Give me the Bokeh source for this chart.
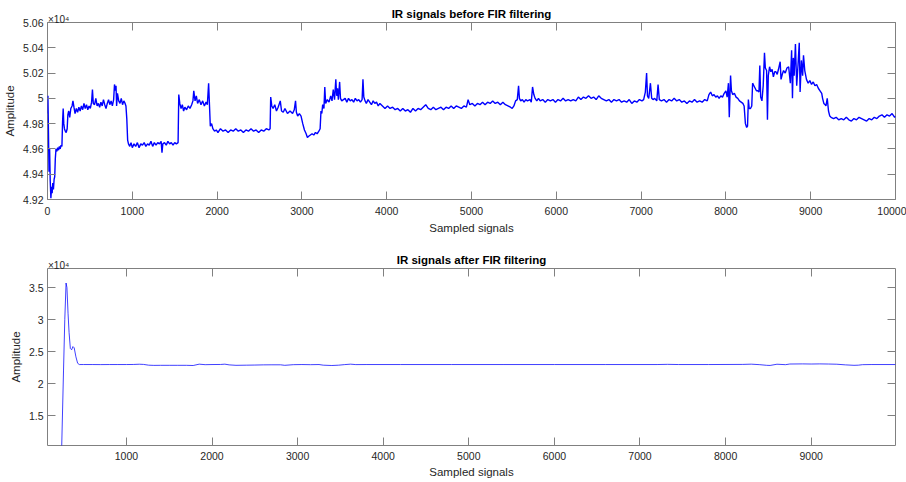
from bokeh.plotting import figure
from bokeh.models import Range1d, LinearAxis, FixedTicker, CustomJSTickFormatter, Title
from bokeh.layouts import column
from bokeh.embed import file_html
from bokeh.resources import INLINE

# ---------------- data ----------------
raw_x = [0, 5, 12, 18, 25, 32, 40, 48, 55, 62, 70, 78, 85, 92, 100, 110, 120, 130, 140, 150,
         160, 170, 178, 185, 192, 200, 210, 220, 232, 240, 250, 262, 275, 290, 300, 312, 325, 340, 355, 370,
         385, 400, 415, 430, 445, 460, 475, 490, 505, 520, 530, 540, 555, 570, 585, 600, 615, 630, 645, 660,
         675, 690, 705, 720, 735, 750, 765, 780, 790, 800, 808, 815, 825, 840, 855, 870, 885, 900, 915, 925,
         935, 945, 955, 970, 985, 1000, 1020, 1040, 1060, 1080, 1100, 1120, 1140, 1160, 1180, 1200, 1220, 1240, 1260, 1280,
         1300, 1320, 1340, 1350, 1360, 1380, 1400, 1420, 1440, 1460, 1480, 1500, 1520, 1540, 1548, 1560, 1575, 1590, 1605, 1620,
         1640, 1660, 1680, 1700, 1715, 1725, 1740, 1755, 1770, 1790, 1810, 1830, 1850, 1870, 1885, 1900, 1910, 1920, 1935, 1950,
         1970, 1990, 2010, 2040, 2070, 2100, 2130, 2160, 2190, 2220, 2250, 2280, 2310, 2340, 2370, 2400, 2430, 2460, 2490, 2520,
         2550, 2580, 2610, 2625, 2632, 2645, 2660, 2680, 2700, 2720, 2745, 2760, 2780, 2800, 2830, 2860, 2890, 2910, 2925, 2935,
         2950, 2970, 2990, 3010, 3030, 3050, 3065, 3080, 3100, 3120, 3140, 3160, 3180, 3200, 3215, 3225, 3235, 3245, 3260, 3270,
         3280, 3300, 3320, 3340, 3355, 3370, 3385, 3400, 3410, 3420, 3430, 3445, 3455, 3470, 3490, 3510, 3530, 3550, 3570, 3590,
         3610, 3630, 3650, 3670, 3690, 3710, 3720, 3730, 3745, 3760, 3780, 3800, 3820, 3840, 3860, 3880, 3900, 3920, 3950, 3980,
         4010, 4040, 4070, 4100, 4130, 4160, 4190, 4220, 4250, 4280, 4310, 4340, 4370, 4400, 4430, 4460, 4490, 4520, 4550, 4580,
         4610, 4640, 4670, 4700, 4730, 4760, 4790, 4820, 4850, 4880, 4910, 4940, 4960, 4980, 5010, 5040, 5070, 5100, 5130, 5160,
         5190, 5220, 5250, 5280, 5310, 5340, 5370, 5400, 5430, 5460, 5480, 5500, 5520, 5540, 5555, 5565, 5580, 5600, 5620, 5640,
         5660, 5690, 5705, 5720, 5735, 5750, 5770, 5790, 5810, 5840, 5870, 5900, 5930, 5960, 5990, 6020, 6050, 6080, 6110, 6140,
         6170, 6200, 6230, 6260, 6290, 6320, 6350, 6380, 6410, 6440, 6470, 6500, 6530, 6560, 6590, 6620, 6650, 6680, 6710, 6740,
         6770, 6800, 6830, 6860, 6890, 6920, 6950, 6980, 7010, 7030, 7050, 7065, 7075, 7090, 7110, 7125, 7140, 7160, 7185, 7200,
         7215, 7240, 7270, 7300, 7330, 7360, 7390, 7420, 7450, 7480, 7510, 7540, 7570, 7600, 7630, 7660, 7690, 7720, 7750, 7780,
         7800, 7820, 7840, 7860, 7880, 7900, 7920, 7940, 7960, 7980, 8000, 8015, 8030, 8040, 8055, 8065, 8080, 8100, 8120, 8140,
         8160, 8180, 8200, 8215, 8230, 8245, 8255, 8265, 8275, 8290, 8305, 8315, 8330, 8345, 8360, 8375, 8390, 8400, 8410, 8425,
         8440, 8455, 8465, 8480, 8490, 8500, 8515, 8530, 8545, 8560, 8575, 8590, 8605, 8620, 8640, 8650, 8665, 8680, 8700, 8720,
         8740, 8760, 8775, 8785, 8795, 8805, 8820, 8835, 8850, 8865, 8875, 8890, 8905, 8915, 8930, 8950, 8970, 8990, 9010, 9030,
         9050, 9070, 9090, 9110, 9130, 9140, 9155, 9170, 9180, 9195, 9210, 9225, 9240, 9270, 9300, 9330, 9360, 9390, 9420, 9450,
         9480, 9510, 9540, 9570, 9600, 9630, 9660, 9690, 9720, 9750, 9780, 9810, 9840, 9870, 9900, 9930, 9960, 9990, 10000]

raw_amplitude = [49880, 50020, 49700, 49420, 49600, 49350, 49210, 49300, 49250, 49330, 49280, 49360, 49380, 49520, 49600, 49580, 49610, 49590, 49620, 49600,
         49630, 49620, 49820, 49920, 49800, 49760, 49740, 49730, 49760, 49870, 49900, 49850, 49920, 49940, 49980, 49930, 49880, 49920, 49890, 49930,
         49900, 49940, 49910, 49960, 49920, 49950, 49910, 49940, 49920, 49970, 50070, 49960, 49950, 50000, 49940, 49960, 49930, 49970, 49940, 49990,
         49950, 49920, 49960, 49990, 49950, 49980, 49940, 49990, 50110, 50060, 50100, 49940, 50040, 49980, 49960, 50000, 49950, 49980, 49960, 49940,
         49840, 49670, 49640, 49620, 49650, 49610, 49640, 49620, 49650, 49610, 49640, 49630, 49650, 49620, 49640, 49630, 49660, 49620, 49650, 49630,
         49650, 49640, 49660, 49570, 49640, 49650, 49630, 49660, 49640, 49650, 49630, 49650, 49640, 49650, 50030, 49960, 49920, 49950, 49900, 49930,
         49910, 49940, 49920, 49950, 49980, 50060, 49980, 50020, 49960, 49990, 49950, 49980, 49940, 49970, 49950, 50120, 49950, 49780, 49800, 49760,
         49740, 49750, 49730, 49760, 49740, 49750, 49730, 49750, 49740, 49760, 49740, 49750, 49730, 49750, 49740, 49760, 49740, 49750, 49730, 49750,
         49740, 49760, 49750, 49760, 50010, 49940, 49920, 49950, 49900, 49930, 49980, 49900, 49890, 49920, 49880, 49900, 49880, 49910, 49980, 49890,
         49860, 49880, 49860, 49800, 49750, 49720, 49690, 49700, 49710, 49720, 49710, 49730, 49720, 49740, 49760, 49900, 49880, 49950, 49920, 50090,
         49960, 49990, 49970, 50020, 49980, 50070, 49990, 50150, 50020, 50080, 49990, 50130, 50000, 49980, 49990, 50000, 49970, 50000, 49980, 49990,
         49970, 50000, 49980, 49990, 49970, 49990, 50150, 50010, 49980, 49960, 49990, 49970, 49950, 49980, 49960, 49970, 49940, 49960, 49940, 49920,
         49940, 49920, 49930, 49910, 49920, 49900, 49920, 49900, 49910, 49890, 49920, 49900, 49920, 49910, 49930, 49950, 49920, 49910, 49930, 49910,
         49920, 49930, 49910, 49930, 49920, 49940, 49920, 49940, 49930, 49920, 49940, 49930, 49990, 49950, 49960, 49940, 49960, 49950, 49970, 49950,
         49970, 49960, 49980, 49960, 49970, 49950, 49970, 49950, 49940, 49930, 49920, 49940, 49980, 49990, 50100, 50000, 49980, 49990, 49970, 49990,
         49980, 49990, 49970, 50090, 50030, 50000, 49980, 50000, 49980, 49990, 49970, 49990, 49980, 49990, 49970, 49990, 49980, 50000, 49980, 49990,
         49980, 49990, 49980, 50010, 49990, 50010, 50000, 50020, 50000, 50010, 49990, 50020, 50000, 49990, 49980, 49990, 49970, 49990, 49980, 49990,
         49970, 49980, 49970, 49990, 49960, 49980, 49970, 49990, 49980, 49990, 50050, 50200, 50020, 50000, 50120, 50000, 49990, 50000, 49980, 50110,
         49990, 49980, 49990, 49970, 49990, 49980, 50000, 49980, 49990, 49970, 49980, 49960, 49980, 49970, 49990, 49970, 49980, 49970, 49990, 49980,
         50030, 50050, 50020, 50030, 50010, 50020, 50000, 50020, 50010, 50040, 50060, 50010, 50120, 49850, 50180, 50060, 50030, 50040, 50010, 50000,
         49980, 49970, 49960, 49940, 49800, 49770, 49780, 49990, 49920, 49920, 49940, 50120, 50100, 50080, 50060, 50060, 50050, 50260, 50010, 49980,
         50100, 50360, 50240, 50220, 49830, 50180, 50250, 50210, 50230, 50170, 50210, 50210, 50190, 50230, 50290, 50150, 50190, 50220, 50200, 50240,
         50250, 50120, 50380, 50000, 50320, 50180, 50430, 50100, 50260, 50440, 50050, 50300, 50180, 50340, 50220, 50150, 50120, 50140, 50110, 50130,
         50100, 50110, 50080, 50060, 50040, 50000, 49960, 49950, 49940, 50000, 49900, 49860, 49850, 49840, 49850, 49830, 49840, 49830, 49850, 49830,
         49820, 49840, 49830, 49850, 49840, 49830, 49820, 49840, 49830, 49850, 49840, 49860, 49870, 49850, 49870, 49860, 49880, 49850, 49860]

filt_x = [240, 265, 280, 295, 305, 318, 330, 345, 360, 375, 390, 410, 430, 450, 500, 600, 700, 800, 900, 1000,
          1080, 1150, 1200, 1260, 1320, 1400, 1500, 1600, 1700, 1780, 1850, 1920, 2000, 2100, 2150, 2200, 2280, 2400, 2500, 2600,
          2700, 2800, 2850, 2950, 3050, 3150, 3250, 3300, 3400, 3480, 3550, 3620, 3680, 3800, 4200, 4800, 5400, 6000, 6600, 7200,
          7320, 7450, 7800, 8200, 8300, 8400, 8480, 8520, 8600, 8700, 8750, 8900, 9000, 9100, 9200, 9300, 9400, 9500, 9550, 9600,
          9700, 9985]
filt_amplitude = [8000, 22000, 30000, 35700, 35000, 31000, 28000, 25500, 25300, 25800, 25600, 24200, 23200, 23000, 23000, 23000, 22990, 23000, 23000, 23000,
          23010, 23050, 23020, 22900, 22870, 22880, 22880, 22880, 22880, 22850, 23060, 22980, 23000, 23010, 23060, 22950, 22880, 22900, 22920, 22950,
          22960, 22960, 22880, 22980, 23000, 22980, 23000, 22900, 22850, 22900, 22990, 23060, 22990, 23000, 23000, 23000, 23000, 23000, 23000, 23000,
          23030, 23000, 23000, 23020, 23060, 22980, 22880, 22860, 23050, 22980, 23080, 23100, 23080, 23100, 23080, 23050, 22950, 22880, 22900, 22980,
          23000, 23000]

top_xticks = [0, 1000, 2000, 3000, 4000, 5000, 6000, 7000, 8000, 9000, 10000]
top_yticks = [49200, 49400, 49600, 49800, 50000, 50200, 50400, 50600]
bot_xticks = [1000, 2000, 3000, 4000, 5000, 6000, 7000, 8000, 9000]
bot_yticks = [15000, 20000, 25000, 30000, 35000]

titles = ["IR signals before FIR filtering", "IR signals after FIR filtering"]
xlabel = "Sampled signals"
ylabel = "Amplitude"
# figure spaces pad the left so the centred label starts at the frame edge
exponent = "\u2007\u2007\u2007\u2007\u00d710\u2074"

FONT = "Liberation Sans"
TXT = "#262626"
AXC = "#808080"
EXP_STANDOFF = -2

fmt = CustomJSTickFormatter(code="return String(+(tick/1e4).toFixed(2));")


def base_style(ax):
    ax.axis_line_color = None
    ax.major_tick_line_color = AXC
    ax.major_tick_in = 8
    ax.major_tick_out = 0
    ax.minor_tick_line_color = None
    ax.major_label_text_font = FONT
    ax.major_label_text_font_size = "10.5px"
    ax.major_label_text_color = TXT
    ax.axis_label_text_font = FONT
    ax.axis_label_text_font_size = "11.5px"
    ax.axis_label_text_font_style = "normal"
    ax.axis_label_text_color = TXT


def style(p, xticks, yticks, tick_std, lab_std, ytick_std, ylab_std):
    p.grid.visible = False
    p.outline_line_color = AXC
    p.outline_line_width = 1
    p.background_fill_color = "white"
    p.border_fill_color = "white"
    for ax in p.xaxis:
        ax.ticker = FixedTicker(ticks=xticks)
        ax.major_label_standoff = tick_std
        ax.axis_label_standoff = lab_std
    for ax in p.yaxis:
        ax.ticker = FixedTicker(ticks=yticks)
        ax.formatter = fmt
        ax.major_label_standoff = ytick_std
        ax.axis_label_standoff = ylab_std
    for ax in p.xaxis + p.yaxis:
        base_style(ax)
    # mirrored ticks (top / right), without tick labels
    top = LinearAxis(ticker=FixedTicker(ticks=xticks))
    right = LinearAxis(ticker=FixedTicker(ticks=yticks))
    for ax in (top, right):
        base_style(ax)
        ax.major_label_text_color = None
        ax.major_label_standoff = 0
    top.axis_label = exponent
    top.axis_label_align = "start"
    top.axis_label_text_font_size = "10px"
    shift = 0
    try:
        top.axis_label_standoff = EXP_STANDOFF
        shift = -2 * EXP_STANDOFF
    except Exception:
        top.axis_label_standoff = 0
    p.add_layout(top, "above")
    p.add_layout(right, "right")
    return shift


def add_title(p, text, standoff):
    p.title = Title(text=text, align="center", vertical_align="bottom", standoff=standoff,
                    text_font=FONT, text_font_size="11.5px", text_font_style="bold",
                    text_color="#000000")


W = 906
tx = (0, 10000)
ty = (49200, 50600)
p1 = figure(width=W, height=244, x_range=Range1d(*tx), y_range=Range1d(*ty),
            output_backend="svg", toolbar_location=None,
            min_border_left=47, min_border_right=11, min_border_top=22, min_border_bottom=45)
p1.line(raw_x, raw_amplitude, line_color="#0000ff", line_width=1.4)
p1.xaxis.axis_label = xlabel
p1.yaxis.axis_label = ylabel
s1 = style(p1, top_xticks, top_yticks, 7, 4, 4, 4)
add_title(p1, titles[0], -23 + s1)

bx = (78, 9985)
by = (10390, 37960)
p2 = figure(width=W, height=236, x_range=Range1d(*bx), y_range=Range1d(*by),
            output_backend="svg", toolbar_location=None,
            min_border_left=46, min_border_right=11, min_border_top=24, min_border_bottom=35)
p2.line(filt_x, filt_amplitude, line_color="#0000ff", line_width=1, line_alpha=0.75)
p2.xaxis.axis_label = xlabel
p2.yaxis.axis_label = ylabel
s2 = style(p2, bot_xticks, bot_yticks, 6, 3, 4, 4)
add_title(p2, titles[1], -22 + s2)

layout = column(p1, p2, spacing=0)
open("out.html", "w").write(file_html(layout, INLINE))
